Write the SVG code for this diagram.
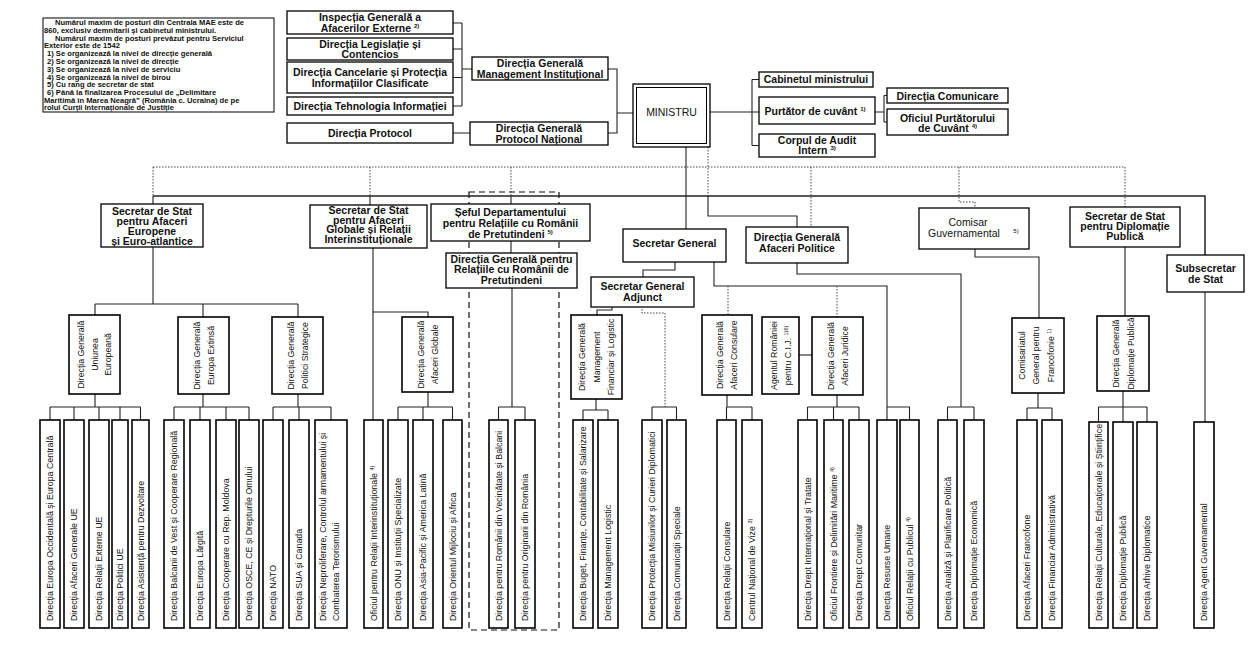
<svg xmlns="http://www.w3.org/2000/svg" width="1260" height="646" viewBox="0 0 1260 646">
<style>
.b{fill:#fff;stroke:#000;stroke-width:1.3}
.bb{fill:#fff;stroke:#000;stroke-width:1.6}
.nb{fill:#fff;stroke:#000;stroke-width:1}
.t{font-family:"Liberation Sans",Arial,sans-serif;font-size:10.5px;font-weight:bold;text-anchor:middle;fill:#111}
.tr{font-family:"Liberation Sans",Arial,sans-serif;font-size:10.5px;text-anchor:middle;fill:#111}
.v{font-family:"Liberation Sans",Arial,sans-serif;font-size:9.5px;fill:#111}
.vm{font-family:"Liberation Sans",Arial,sans-serif;font-size:9.5px;text-anchor:middle;fill:#111}
.n{font-family:"Liberation Sans",Arial,sans-serif;font-size:7.6px;font-weight:bold;fill:#111}
.s{fill:none;stroke:#222;stroke-width:1.1}
.d{fill:none;stroke:#333;stroke-width:0.9;stroke-dasharray:1.5 1.5}
.k{fill:none;stroke:#111;stroke-width:1.2;stroke-dasharray:6 4}
.sup{font-size:6px}
</style>
<rect width="1260" height="646" fill="#fff"/>

<g id="connectors">
<path class="s" d="M453,23 H462 M453,49 H462 M453,77.5 H462 M453,106 H462 M462,23 V106 M462,69 H472"/>
<path class="s" d="M608,69 H617 V133 H608 M617,113 H633 M453,133 H470"/>
<path class="s" d="M710,112 H759 M752,79.5 V145.5 M752,79.5 H759 M752,145.5 H759"/>
<path class="s" d="M875,112 H884 M884,95.5 V122 M884,95.5 H887 M884,122 H887"/>
<path class="s" d="M686,147 V229"/>
<path class="d" d="M708,147 V196"/>
<path class="s" style="stroke-width:1.5" d="M153,196 H1205 V255"/>
<path class="d" d="M153,167 H1125"/>
<path class="d" d="M153,167 V196 M370,167 V196 M511,167 V196 M1125,167 V207 M811,167 V227 M959,167 V202 H975 V208"/>
<path class="s" d="M153,196 V204 M370,196 V205 M511,196 V204"/>
<path class="s" d="M708,196 V216 H797 V227"/>
<path class="k" d="M469,192 H559 V630 H469 Z"/>
<path class="s" d="M153,247 V304 M95,304 H298 M95,304 V315 M203,304 V317 M298,304 V317"/>
<path class="s" d="M95,394 V407 M50,407 H140.5 M50,407 V420 M74,407 V420 M99,407 V420 M120,407 V420 M140.5,407 V420"/>
<path class="s" d="M203,394 V407 M174,407 H249 M174,407 V420 M200,407 V420 M226,407 V420 M249,407 V420"/>
<path class="s" d="M298,394 V407 M273,407 H331 M273,407 V420 M299,407 V420 M331,407 V420"/>
<path class="s" d="M373,248 V420 M373,312 H428 V317"/>
<path class="s" d="M428,392 V407 M398,407 H452.5 M398,407 V420 M423,407 V420 M452.5,407 V420"/>
<path class="s" d="M511,241 V253 M512,288 V407 M498.5,407 H525 M498.5,407 V420 M525,407 V420"/>
<path class="s" d="M675,262 V270 H643 V278"/>
<path class="s" d="M714,262 V286 H887 V420 M887,407 H909.5 V420"/>
<path class="d" d="M728,286 V315 M837,286 V317"/>
<path class="s" d="M612,306 V310 H597 V315"/>
<path class="d" d="M642,306 V313 H665 V407"/>
<path class="s" d="M652,407 H676.5 M652,407 V420 M676.5,407 V420"/>
<path class="s" d="M596,399 V410 M583,410 H608 M583,410 V420 M608,410 V420"/>
<path class="s" d="M727,395 V407 M726.5,407 H752 M726.5,407 V420 M752,407 V420"/>
<path class="s" d="M799,355 H812"/>
<path class="s" d="M837,395 V407 M807.5,407 H859 M807.5,407 V420 M833.5,407 V420 M859,407 V420"/>
<path class="s" d="M797,263 V274 H961 V407 M947.5,407 H974 M947.5,407 V420 M974,407 V420"/>
<path class="s" d="M975,249 V257 H1039 V318 M1038,393 V408 M1027,408 H1052 M1027,408 V420 M1052,408 V420"/>
<path class="s" d="M1125,247 V316 M1123,391 V422 M1098.5,407 H1147 M1098.5,407 V422 M1147,407 V422"/>
<path class="s" d="M1205,292 V422"/>
</g>

<g id="note">
<rect class="nb" x="43" y="18" width="231" height="94"/>
<text class="n" x="55" y="25">Numărul maxim de posturi din Centrala MAE este de</text>
<text class="n" x="44" y="32.8">860, exclusiv demnitarii și cabinetul ministrului.</text>
<text class="n" x="55" y="40.6">Numărul maxim de posturi prevăzut pentru Serviciul</text>
<text class="n" x="44" y="48.4">Exterior este de 1542</text>
<text class="n" x="47" y="56.2">1) Se organizează la nivel de direcție generală</text>
<text class="n" x="47" y="64">2) Se organizează la nivel de direcție</text>
<text class="n" x="47" y="71.8">3) Se organizează la nivel de serviciu</text>
<text class="n" x="47" y="79.6">4) Se organizează la nivel de birou</text>
<text class="n" x="47" y="87.4">5) Cu rang de secretar de stat</text>
<text class="n" x="47" y="95.2">6) Până la finalizarea Procesului de „Delimitare</text>
<text class="n" x="44" y="103">Maritimă în Marea Neagră” (România c. Ucraina) de pe</text>
<text class="n" x="44" y="110.3">rolul Curții Internaționale de Justiție</text>
</g>

<g id="igae"><rect class="b" x="287" y="11" width="166" height="23"/><text class="t" x="370" y="21">Inspecția Generală a</text><text class="t" x="370" y="31.5">Afacerilor Externe <tspan class="sup" dy="-4">2)</tspan></text></g>
<g id="dlc"><rect class="b" x="287" y="38" width="166" height="22"/><text class="t" x="370" y="47.5">Direcția Legislație și</text><text class="t" x="370" y="58">Contencios</text></g>
<g id="dcpic"><rect class="b" x="287" y="62" width="166" height="31"/><text class="t" x="370" y="75.8">Direcția Cancelarie și Protecția</text><text class="t" x="370" y="86.8">Informațiilor Clasificate</text></g>
<g id="dti"><rect class="b" x="287" y="97" width="166" height="18"/><text class="t" x="370" y="110">Direcția Tehnologia Informației</text></g>
<g id="dp"><rect class="b" x="287" y="123" width="166" height="20"/><text class="t" x="370" y="137">Direcția Protocol</text></g>
<g id="dgmi"><rect class="b" x="472" y="57" width="136" height="23"/><text class="t" x="540" y="67">Direcția Generală</text><text class="t" x="540" y="77.5">Management Instituțional</text></g>
<g id="dgpn"><rect class="b" x="470" y="122" width="138" height="23"/><text class="t" x="539" y="132">Direcția Generală</text><text class="t" x="539" y="142.5">Protocol Național</text></g>

<g id="ministru"><rect class="b" x="633" y="84" width="77" height="63"/><rect fill="none" stroke="#000" stroke-width="1" x="636.5" y="87.5" width="70" height="56"/><text class="tr" x="671.5" y="116">MINISTRU</text></g>
<g id="cabinet"><rect class="b" x="759" y="72" width="114" height="15"/><text class="t" x="816" y="83.3">Cabinetul ministrului</text></g>
<g id="purtator"><rect class="b" x="759" y="97" width="116" height="27"/><text class="t" x="815" y="115">Purtător de cuvânt <tspan class="sup" dy="-4">1)</tspan></text></g>
<g id="audit"><rect class="b" x="759" y="134" width="116" height="23"/><text class="t" x="817" y="144">Corpul de Audit</text><text class="t" x="817" y="154">Intern <tspan class="sup" dy="-4">3)</tspan></text></g>
<g id="dcom"><rect class="b" x="887" y="88" width="121" height="15"/><text class="t" x="947.5" y="99.5">Direcția Comunicare</text></g>
<g id="opc"><rect class="b" x="887" y="109" width="121" height="26"/><text class="t" x="947.5" y="121.5">Oficiul Purtătorului</text><text class="t" x="947.5" y="131.5">de Cuvânt <tspan class="sup" dy="-4">4)</tspan></text></g>

<g id="ssae"><rect class="b" x="101" y="204" width="102" height="43"/><text class="t" x="152" y="214.5">Secretar de Stat</text><text class="t" x="152" y="224.5">pentru Afaceri</text><text class="t" x="152" y="234.5">Europene</text><text class="t" x="152" y="244.5">și Euro-atlantice</text></g>
<g id="ssag"><rect class="b" x="310" y="205" width="117" height="43"/><text class="t" x="368.5" y="214">Secretar de Stat</text><text class="t" x="368.5" y="223.7">pentru Afaceri</text><text class="t" x="368.5" y="233.4">Globale și Relații</text><text class="t" x="368.5" y="243.1">Interinstituționale</text></g>
<g id="seful"><rect class="b" x="431" y="204" width="159" height="37"/><text class="t" x="510.5" y="215.5">Șeful Departamentului</text><text class="t" x="510.5" y="226.5">pentru Relațiile cu Românii</text><text class="t" x="510.5" y="237.5">de Pretutindeni <tspan class="sup" dy="-4">5)</tspan></text></g>
<g id="dgrrp"><rect class="b" x="446" y="253" width="131" height="35"/><text class="t" x="511.5" y="262.5">Direcția Generală pentru</text><text class="t" x="511.5" y="273">Relațiile cu Românii de</text><text class="t" x="511.5" y="283.5">Pretutindeni</text></g>
<g id="sg"><rect class="b" x="623" y="229" width="103" height="33"/><text class="t" x="674.5" y="246.5">Secretar General</text></g>
<g id="sga"><rect class="b" x="591" y="277" width="103" height="30"/><text class="t" x="642.5" y="289.5">Secretar General</text><text class="t" x="642.5" y="300.5">Adjunct</text></g>
<g id="dgap"><rect class="b" x="746" y="227" width="102" height="36"/><text class="t" x="797" y="240.5">Direcția Generală</text><text class="t" x="797" y="252">Afaceri Politice</text></g>
<g id="comisar"><rect class="b" x="919" y="208" width="110" height="41"/><text class="tr" x="968" y="225.5">Comisar</text><text class="tr" x="964" y="237">Guvernamental</text><text class="tr sup" x="1016" y="233">5)</text></g>
<g id="ssdp"><rect class="b" x="1070" y="207" width="110" height="40"/><text class="t" x="1125" y="219.5">Secretar de Stat</text><text class="t" x="1125" y="229.7">pentru Diplomație</text><text class="t" x="1125" y="240">Publică</text></g>
<g id="subsecretar"><rect class="b" x="1167" y="255" width="77" height="37"/><text class="t" x="1205.5" y="271.5">Subsecretar</text><text class="t" x="1205.5" y="283">de Stat</text></g>

<g id="dgue"><rect class="bb" x="69" y="315" width="51" height="79"/><text class="vm" transform="translate(84.3,354.5) rotate(-90) scale(0.92,1)">Direcția Generală</text><text class="vm" transform="translate(97.8,354.5) rotate(-90) scale(0.92,1)">Uniunea</text><text class="vm" transform="translate(111.3,354.5) rotate(-90) scale(0.92,1)">Europeană</text></g>
<g id="dgee"><rect class="bb" x="178" y="317" width="51" height="77"/><text class="vm" transform="translate(199.8,355.5) rotate(-90) scale(0.92,1)">Direcția Generală</text><text class="vm" transform="translate(213.8,355.5) rotate(-90) scale(0.92,1)">Europa Extinsă</text></g>
<g id="dgps"><rect class="bb" x="272" y="317" width="51" height="77"/><text class="vm" transform="translate(293.8,355.5) rotate(-90) scale(0.92,1)">Direcția Generală</text><text class="vm" transform="translate(307.8,355.5) rotate(-90) scale(0.92,1)">Politici Strategice</text></g>
<g id="dgag"><rect class="bb" x="402" y="317" width="51" height="75"/><text class="vm" transform="translate(423.8,354.5) rotate(-90) scale(0.92,1)">Direcția Generală</text><text class="vm" transform="translate(437.8,354.5) rotate(-90) scale(0.92,1)">Afaceri Globale</text></g>
<g id="dgmfl"><rect class="bb" x="571" y="315" width="51" height="84"/><text class="vm" transform="translate(585.3,357) rotate(-90) scale(0.92,1)">Direcția Generală</text><text class="vm" transform="translate(599.8,357) rotate(-90) scale(0.92,1)">Management</text><text class="vm" transform="translate(614.3,357) rotate(-90) scale(0.92,1)">Financiar și Logistic</text></g>
<g id="dgac"><rect class="bb" x="702" y="315" width="50" height="80"/><text class="vm" transform="translate(723.3,355) rotate(-90) scale(0.92,1)">Direcția Generală</text><text class="vm" transform="translate(737.3,355) rotate(-90) scale(0.92,1)">Afaceri Consulare</text></g>
<g id="agent"><rect class="bb" x="762" y="317" width="37" height="77"/><text class="vm" transform="translate(776.8,355.5) rotate(-90) scale(0.92,1)">Agentul României</text><text class="vm" transform="translate(790.8,355.5) rotate(-90) scale(0.92,1)">pentru C.I.J. <tspan class="sup" dy="-3">1)6)</tspan></text></g>
<g id="dgaj"><rect class="bb" x="812" y="317" width="51" height="78"/><text class="vm" transform="translate(833.8,356) rotate(-90) scale(0.92,1)">Direcția Generală</text><text class="vm" transform="translate(847.8,356) rotate(-90) scale(0.92,1)">Afaceri Juridice</text></g>
<g id="cgf"><rect class="bb" x="1012" y="318" width="52" height="75"/><text class="vm" transform="translate(1024.8,355.5) rotate(-90) scale(0.92,1)">Comisariatul</text><text class="vm" transform="translate(1039.3,355.5) rotate(-90) scale(0.92,1)">General pentru</text><text class="vm" transform="translate(1053.8,355.5) rotate(-90) scale(0.92,1)">Francofonie <tspan class="sup" dy="-3">1)</tspan></text></g>
<g id="dgdp"><rect class="bb" x="1097" y="316" width="52" height="75"/><text class="vm" transform="translate(1119,353.5) rotate(-90) scale(0.92,1)">Direcția Generală</text><text class="vm" transform="translate(1133.5,353.5) rotate(-90) scale(0.92,1)">Diplomație Publică</text></g>

<g id="b01"><rect class="bb" x="40" y="420" width="20" height="208"/><text class="v" transform="translate(53.2,621) rotate(-90) scale(0.93,1)">Direcția Europa Occidentală și Europa Centrală</text></g>
<g id="b02"><rect class="bb" x="64" y="420" width="20" height="208"/><text class="v" transform="translate(77.2,621) rotate(-90) scale(0.93,1)">Direcția Afaceri Generale UE</text></g>
<g id="b03"><rect class="bb" x="89" y="420" width="20" height="208"/><text class="v" transform="translate(102.2,621) rotate(-90) scale(0.93,1)">Direcția Relații Externe UE</text></g>
<g id="b04"><rect class="bb" x="112" y="420" width="16" height="208"/><text class="v" transform="translate(123.2,621) rotate(-90) scale(0.93,1)">Direcția Politici UE</text></g>
<g id="b05"><rect class="bb" x="132" y="420" width="17" height="208"/><text class="v" transform="translate(143.7,621) rotate(-90) scale(0.93,1)">Direcția Asistență pentru Dezvoltare</text></g>
<g id="b06"><rect class="bb" x="164" y="420" width="20" height="208"/><text class="v" transform="translate(177.2,621) rotate(-90) scale(0.93,1)">Direcția Balcanii de Vest și Cooperare Regională</text></g>
<g id="b07"><rect class="bb" x="190" y="420" width="20" height="208"/><text class="v" transform="translate(203.2,621) rotate(-90) scale(0.93,1)">Direcția Europa Lărgită</text></g>
<g id="b08"><rect class="bb" x="216" y="420" width="20" height="208"/><text class="v" transform="translate(229.2,621) rotate(-90) scale(0.93,1)">Direcția Cooperare cu Rep. Moldova</text></g>
<g id="b09"><rect class="bb" x="239" y="420" width="20" height="208"/><text class="v" transform="translate(252.2,621) rotate(-90) scale(0.93,1)">Direcția OSCE, CE și Drepturile Omului</text></g>
<g id="b10"><rect class="bb" x="263" y="420" width="20" height="208"/><text class="v" transform="translate(276.2,621) rotate(-90) scale(0.93,1)">Direcția NATO</text></g>
<g id="b11"><rect class="bb" x="289" y="420" width="20" height="208"/><text class="v" transform="translate(302.2,621) rotate(-90) scale(0.93,1)">Direcția SUA și Canada</text></g>
<g id="b12"><rect class="bb" x="315" y="420" width="32" height="208"/><text class="v" transform="translate(326,621) rotate(-90) scale(0.93,1)">Direcția Neproliferare, Controlul armamentului și</text><text class="v" transform="translate(339,621) rotate(-90) scale(0.93,1)">Combaterea Terorismului</text></g>
<g id="b13"><rect class="bb" x="364" y="420" width="19" height="208"/><text class="v" transform="translate(376.7,621) rotate(-90) scale(0.93,1)">Oficiul pentru Relații Interinstituționale <tspan class="sup" dy="-3">4)</tspan></text></g>
<g id="b14"><rect class="bb" x="388" y="420" width="20" height="208"/><text class="v" transform="translate(401.2,621) rotate(-90) scale(0.93,1)">Direcția ONU și Instituții Specializate</text></g>
<g id="b15"><rect class="bb" x="413" y="420" width="20" height="208"/><text class="v" transform="translate(426.2,621) rotate(-90) scale(0.93,1)">Direcția Asia-Pacific și America Latină</text></g>
<g id="b16"><rect class="bb" x="443" y="420" width="19" height="208"/><text class="v" transform="translate(455.7,621) rotate(-90) scale(0.93,1)">Direcția Orientul Mijlociu și Africa</text></g>
<g id="b17"><rect class="bb" x="489" y="420" width="19" height="208"/><text class="v" transform="translate(501.7,621) rotate(-90) scale(0.93,1)">Direcția pentru Românii din Vecinătate și Balcani</text></g>
<g id="b18"><rect class="bb" x="515" y="420" width="20" height="208"/><text class="v" transform="translate(528.2,621) rotate(-90) scale(0.93,1)">Direcția pentru Originarii din România</text></g>
<g id="b19"><rect class="bb" x="573" y="420" width="20" height="208"/><text class="v" transform="translate(586.2,621) rotate(-90) scale(0.93,1)">Direcția Buget, Finanțe, Contabilitate și Salarizare</text></g>
<g id="b20"><rect class="bb" x="598" y="420" width="20" height="208"/><text class="v" transform="translate(611.2,621) rotate(-90) scale(0.93,1)">Direcția Management Logistic</text></g>
<g id="b21"><rect class="bb" x="642" y="420" width="20" height="208"/><text class="v" transform="translate(655.2,621) rotate(-90) scale(0.93,1)">Direcția Protecția Misiunilor și Curieri Diplomatici</text></g>
<g id="b22"><rect class="bb" x="667" y="420" width="19" height="208"/><text class="v" transform="translate(679.7,621) rotate(-90) scale(0.93,1)">Direcția Comunicații Speciale</text></g>
<g id="b23"><rect class="bb" x="717" y="420" width="19" height="208"/><text class="v" transform="translate(729.7,621) rotate(-90) scale(0.93,1)">Direcția Relații Consulare</text></g>
<g id="b24"><rect class="bb" x="742" y="420" width="20" height="208"/><text class="v" transform="translate(755.2,621) rotate(-90) scale(0.93,1)">Centrul Național de Vize <tspan class="sup" dy="-3">3)</tspan></text></g>
<g id="b25"><rect class="bb" x="798" y="420" width="19" height="208"/><text class="v" transform="translate(810.7,621) rotate(-90) scale(0.93,1)">Direcția Drept Internațional și Tratate</text></g>
<g id="b26"><rect class="bb" x="824" y="420" width="19" height="208"/><text class="v" transform="translate(836.7,621) rotate(-90) scale(0.93,1)">Oficiul Frontiere și Delimitări Maritime <tspan class="sup" dy="-3">4)</tspan></text></g>
<g id="b27"><rect class="bb" x="849" y="420" width="20" height="208"/><text class="v" transform="translate(862.2,621) rotate(-90) scale(0.93,1)">Direcția Drept Comunitar</text></g>
<g id="b28"><rect class="bb" x="877" y="420" width="20" height="208"/><text class="v" transform="translate(890.2,621) rotate(-90) scale(0.93,1)">Direcția Resurse Umane</text></g>
<g id="b29"><rect class="bb" x="900" y="420" width="19" height="208"/><text class="v" transform="translate(912.7,621) rotate(-90) scale(0.93,1)">Oficiul Relații cu Publicul <tspan class="sup" dy="-3">4)</tspan></text></g>
<g id="b30"><rect class="bb" x="938" y="420" width="19" height="208"/><text class="v" transform="translate(950.7,621) rotate(-90) scale(0.93,1)">Direcția Analiză și Planificare Politică</text></g>
<g id="b31"><rect class="bb" x="964" y="420" width="20" height="208"/><text class="v" transform="translate(977.2,621) rotate(-90) scale(0.93,1)">Direcția Diplomație Economică</text></g>
<g id="b32"><rect class="bb" x="1017" y="420" width="20" height="208"/><text class="v" transform="translate(1030.2,621) rotate(-90) scale(0.93,1)">Direcția Afaceri Francofone</text></g>
<g id="b33"><rect class="bb" x="1042" y="420" width="20" height="208"/><text class="v" transform="translate(1055.2,621) rotate(-90) scale(0.93,1)">Direcția Financiar Administrativă</text></g>
<g id="b34"><rect class="bb" x="1089" y="422" width="19" height="206"/><text class="v" transform="translate(1101.7,621) rotate(-90) scale(0.93,1)">Direcția Relații Culturale, Educaționale și Științifice</text></g>
<g id="b35"><rect class="bb" x="1113" y="422" width="20" height="206"/><text class="v" transform="translate(1126.2,621) rotate(-90) scale(0.93,1)">Direcția Diplomație Publică</text></g>
<g id="b36"><rect class="bb" x="1137" y="422" width="20" height="206"/><text class="v" transform="translate(1150.2,621) rotate(-90) scale(0.93,1)">Direcția Arhive Diplomatice</text></g>
<g id="b37"><rect class="bb" x="1194" y="422" width="20" height="206"/><text class="v" transform="translate(1207.2,621) rotate(-90) scale(0.93,1)">Direcția Agent Guvernamental</text></g>
</svg>
